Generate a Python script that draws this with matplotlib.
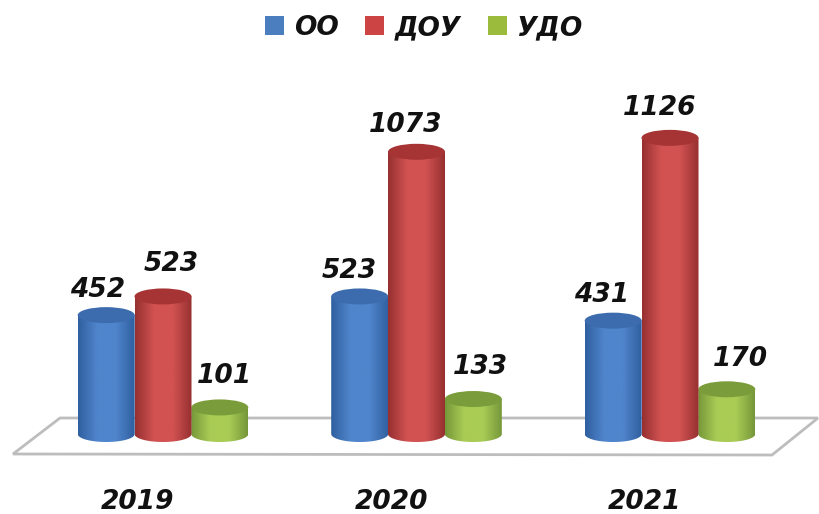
import numpy as np
import matplotlib
matplotlib.use("Agg")
import matplotlib.pyplot as plt
from matplotlib.patches import Polygon, Ellipse, Patch
from matplotlib.colors import LinearSegmentedColormap

plt.rcParams['font.family'] = ['DejaVu Sans']

# data
years = ["2019", "2020", "2021"]
series_names = ["ОО", "ДОУ", "УДО"]
oo = [452, 523, 431]
dou = [523, 1073, 1126]
udo = [101, 133, 170]

W, H = 819, 514
PX_X = 253.5     # pixels per group
PX_Y = 0.263     # pixels per value unit
BASE = 434       # pixel row of value 0
FIRST = 163      # pixel column of first group

colors = {
    "ОО": ("#2f5f9f", "#4f85cc", "#3c6cae", "#4a7ebf"),
    "ДОУ": ("#963030", "#d25252", "#a63434", "#cc4444"),
    "УДО": ("#76973a", "#a9cc55", "#7b9c3a", "#9bbb3c"),
}

fig = plt.figure(figsize=(W / 100, H / 100), dpi=100)
ax = fig.add_axes([0, 0, 1, 1])
ax.set_xlim(-FIRST / PX_X, (W - FIRST) / PX_X)
ax.set_ylim(-(H - BASE) / PX_Y, BASE / PX_Y)
ax.axis("off")

# floor of the chart
floor = [(13, 454), (60, 418), (818, 418), (772, 455)]
floor = [(x / W, 1 - y / H) for x, y in floor]
ax.add_patch(Polygon(floor, closed=True, transform=ax.transAxes, facecolor="white",
                     edgecolor="#bdbdbd", linewidth=2, zorder=1))


def cylinder(x, value, name, z):
    rx = 28.5 / PX_X
    ry = 8 / PX_Y
    edge, mid, top, _ = colors[name]
    t = np.linspace(np.pi, 2 * np.pi, 60)
    xs = x + rx * np.cos(t)
    low = ry * np.sin(t)
    outline = list(zip(xs, low)) + [(x + rx, value), (x - rx, value)]
    cmap = LinearSegmentedColormap.from_list(name, [edge, mid, mid, edge], N=128)
    im = ax.imshow(np.linspace(0, 1, 128)[None, :], cmap=cmap, aspect="auto",
                   extent=[x - rx, x + rx, -ry, value], zorder=z)
    clip = Polygon(outline, closed=True, transform=ax.transData)
    im.set_clip_path(clip)
    ax.add_patch(Ellipse((x, value), 2 * rx, 2 * ry, facecolor=top, edgecolor="none", zorder=z + 0.1))


# pixel nudges of the value labels
nudge = {
    "ОО": [(-9, 25), (-10, 25), (-12, 26)],
    "ДОУ": [(8, 32), (-11, 27), (-10, 30)],
    "УДО": [(5, 31), (7, 32), (14, 30)],
}
step = 56.8 / PX_X
values = {"ОО": oo, "ДОУ": dou, "УДО": udo}
# red is drawn last, it sits over both neighbours
order = [("ОО", -1, 2), ("УДО", 1, 3), ("ДОУ", 0, 4)]

for i in range(len(years)):
    for name, pos, z in order:
        x = i + pos * step
        v = values[name][i]
        cylinder(x, v, name, z + i * 2)
        dx, dy = nudge[name][i]
        ax.annotate(str(v), (x, v), xytext=(dx * 0.72, dy * 0.72), textcoords="offset points",
                    ha="center", va="center", fontsize=19, fontweight="bold", fontstyle="italic",
                    color="#111111", zorder=20)
    ax.annotate(years[i], (i, 0), xycoords=("data", "axes fraction"), xytext=(-25 * 0.72, 12 * 0.72),
                textcoords="offset points", ha="center", va="center", fontsize=19,
                fontweight="bold", fontstyle="italic", color="#111111")

handles = [Patch(facecolor=colors[n][3], edgecolor="none", label=n) for n in series_names]
ax.legend(handles=handles, loc="center", bbox_to_anchor=(424 / W, 1 - 28 / H), ncol=3, frameon=False,
          handlelength=0.72, handleheight=0.72, handletextpad=0.4, columnspacing=1.0,
          prop={"size": 19, "weight": "bold", "style": "italic"}, labelcolor="#111111")

fig.savefig("out.png", dpi=100)
